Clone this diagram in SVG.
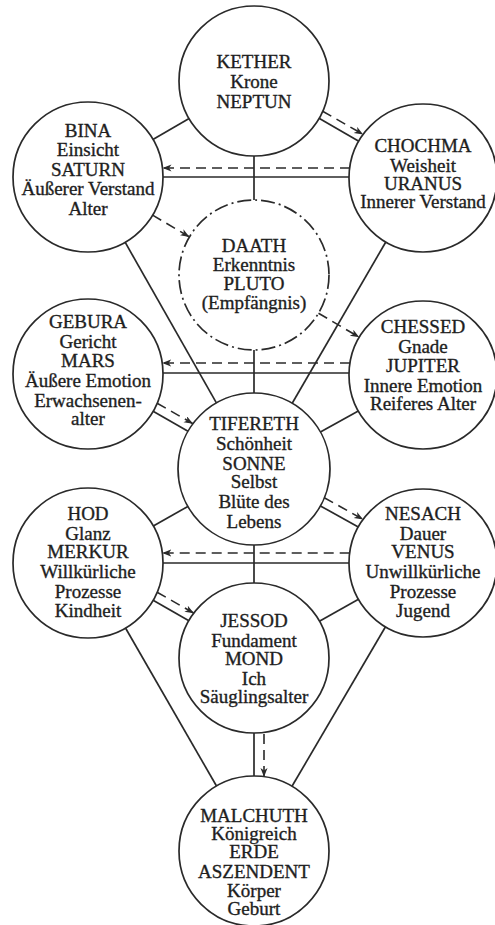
<svg xmlns="http://www.w3.org/2000/svg" width="495" height="925" viewBox="0 0 495 925">
<defs>
<style>
.c{fill:#fff;stroke:#2a2a2a;stroke-width:1.7}
.cd{fill:none;stroke:#2a2a2a;stroke-width:1.7;stroke-dasharray:14 4 2 4}
.l{stroke:#2a2a2a;stroke-width:1.7;fill:none}
.d{stroke:#2a2a2a;stroke-width:1.6;fill:none;stroke-dasharray:10 6;marker-end:url(#ah)}
text{font-family:"Liberation Serif","Times New Roman",serif;font-size:19px;fill:#1e1e1e;stroke:#1e1e1e;stroke-width:0.35;text-anchor:middle}
</style>
<marker id="ah" markerWidth="10" markerHeight="8" refX="9" refY="3.5" orient="auto" markerUnits="userSpaceOnUse">
<path d="M0,0 L9,3.5 L0,7 L2.5,3.5 z" fill="#2a2a2a"/>
</marker>
</defs>
<rect width="495" height="925" fill="#fff"/>
<g id="connectors">
<line class="l" x1="189.1" y1="118.5" x2="152.9" y2="139.5"/>
<line class="l" x1="319" y1="118.3" x2="358.8" y2="141.2"/>
<line class="d" x1="322.6" y1="111.2" x2="363.2" y2="134.4"/>
<line class="l" x1="163" y1="177" x2="349" y2="177"/>
<line class="d" x1="350" y1="168" x2="162.5" y2="168"/>
<line class="l" x1="254" y1="156" x2="254" y2="200"/>
<line class="d" x1="152.6" y1="215.1" x2="189.4" y2="236.9"/>
<line class="d" x1="318.5" y1="313.2" x2="359.3" y2="337.3"/>
<line class="l" x1="125.1" y1="242.2" x2="216.4" y2="402.9"/>
<line class="l" x1="385.8" y1="242" x2="292.2" y2="403.3"/>
<line class="l" x1="254" y1="350" x2="254" y2="393"/>
<line class="l" x1="163" y1="373" x2="349" y2="373"/>
<line class="d" x1="350" y1="363" x2="162.2" y2="363"/>
<line class="l" x1="153.1" y1="411.2" x2="188" y2="431.3"/>
<line class="d" x1="157.1" y1="403.2" x2="193" y2="423.7"/>
<line class="l" x1="358.3" y1="411" x2="320.4" y2="432.1"/>
<line class="l" x1="187.9" y1="506.4" x2="153.3" y2="526"/>
<line class="l" x1="320.4" y1="505.9" x2="358.3" y2="527"/>
<line class="d" x1="324.3" y1="497.8" x2="363.2" y2="519.4"/>
<line class="l" x1="254" y1="545" x2="254" y2="583"/>
<line class="l" x1="163" y1="563" x2="349" y2="563"/>
<line class="d" x1="349.7" y1="553" x2="162.3" y2="553"/>
<line class="l" x1="153.1" y1="600.2" x2="188.9" y2="620.8"/>
<line class="d" x1="157.1" y1="592.2" x2="193.9" y2="613.2"/>
<line class="l" x1="358.5" y1="599.3" x2="319.4" y2="621.2"/>
<line class="l" x1="125.5" y1="628" x2="216.5" y2="786"/>
<line class="l" x1="385.5" y1="626.8" x2="292" y2="786.3"/>
<line class="l" x1="254" y1="733" x2="254" y2="776"/>
<line class="d" x1="264" y1="734" x2="264" y2="777"/>
</g>
<g id="kether">
<circle class="c" cx="254" cy="81" r="75"/>
<text x="254" y="68">KETHER</text><text x="254" y="88">Krone</text><text x="254" y="108">NEPTUN</text>
</g>
<g id="bina">
<circle class="c" cx="88" cy="177" r="75"/>
<text x="88" y="137">BINA</text><text x="88" y="156">Einsicht</text><text x="88" y="176">SATURN</text><text x="88" y="195">Äußerer Verstand</text><text x="88" y="215">Alter</text>
</g>
<g id="chochma">
<circle class="c" cx="423" cy="178" r="74"/>
<text x="423" y="152">CHOCHMA</text><text x="423" y="172">Weisheit</text><text x="423" y="190">URANUS</text><text x="423" y="208">Innerer Verstand</text>
</g>
<g id="daath">
<circle class="cd" cx="254" cy="275" r="75"/>
<text x="254" y="252">DAATH</text><text x="254" y="271">Erkenntnis</text><text x="254" y="290">PLUTO</text><text x="254" y="309">(Empfängnis)</text>
</g>
<g id="gebura">
<circle class="c" cx="88" cy="374" r="75"/>
<text x="88" y="328">GEBURA</text><text x="88" y="348">Gericht</text><text x="88" y="367">MARS</text><text x="88" y="387">Äußere Emotion</text><text x="88" y="407">Erwachsenen-</text><text x="88" y="425">alter</text>
</g>
<g id="chessed">
<circle class="c" cx="423" cy="375" r="74"/>
<text x="423" y="333">CHESSED</text><text x="423" y="353">Gnade</text><text x="423" y="372">JUPITER</text><text x="423" y="392">Innere Emotion</text><text x="423" y="410">Reiferes Alter</text>
</g>
<g id="tifereth">
<circle class="c" cx="254" cy="469" r="76"/>
<text x="254" y="430">TIFERETH</text><text x="254" y="450">Schönheit</text><text x="254" y="470">SONNE</text><text x="254" y="488">Selbst</text><text x="254" y="508">Blüte des</text><text x="254" y="528">Lebens</text>
</g>
<g id="hod">
<circle class="c" cx="88" cy="563" r="75"/>
<text x="88" y="520">HOD</text><text x="88" y="540">Glanz</text><text x="88" y="558">MERKUR</text><text x="88" y="578">Willkürliche</text><text x="88" y="598">Prozesse</text><text x="88" y="617">Kindheit</text>
</g>
<g id="nesach">
<circle class="c" cx="423" cy="563" r="74"/>
<text x="423" y="520">NESACH</text><text x="423" y="540">Dauer</text><text x="423" y="558">VENUS</text><text x="423" y="578">Unwillkürliche</text><text x="423" y="598">Prozesse</text><text x="423" y="617">Jugend</text>
</g>
<g id="jessod">
<circle class="c" cx="254" cy="658" r="75"/>
<text x="254" y="627">JESSOD</text><text x="254" y="647">Fundament</text><text x="254" y="665">MOND</text><text x="254" y="685">Ich</text><text x="254" y="703">Säuglingsalter</text>
</g>
<g id="malchuth">
<circle class="c" cx="254" cy="851" r="75"/>
<text x="254" y="822">MALCHUTH</text><text x="254" y="840">Königreich</text><text x="254" y="858">ERDE</text><text x="254" y="878">ASZENDENT</text><text x="254" y="897">Körper</text><text x="254" y="915">Geburt</text>
</g>
</svg>
